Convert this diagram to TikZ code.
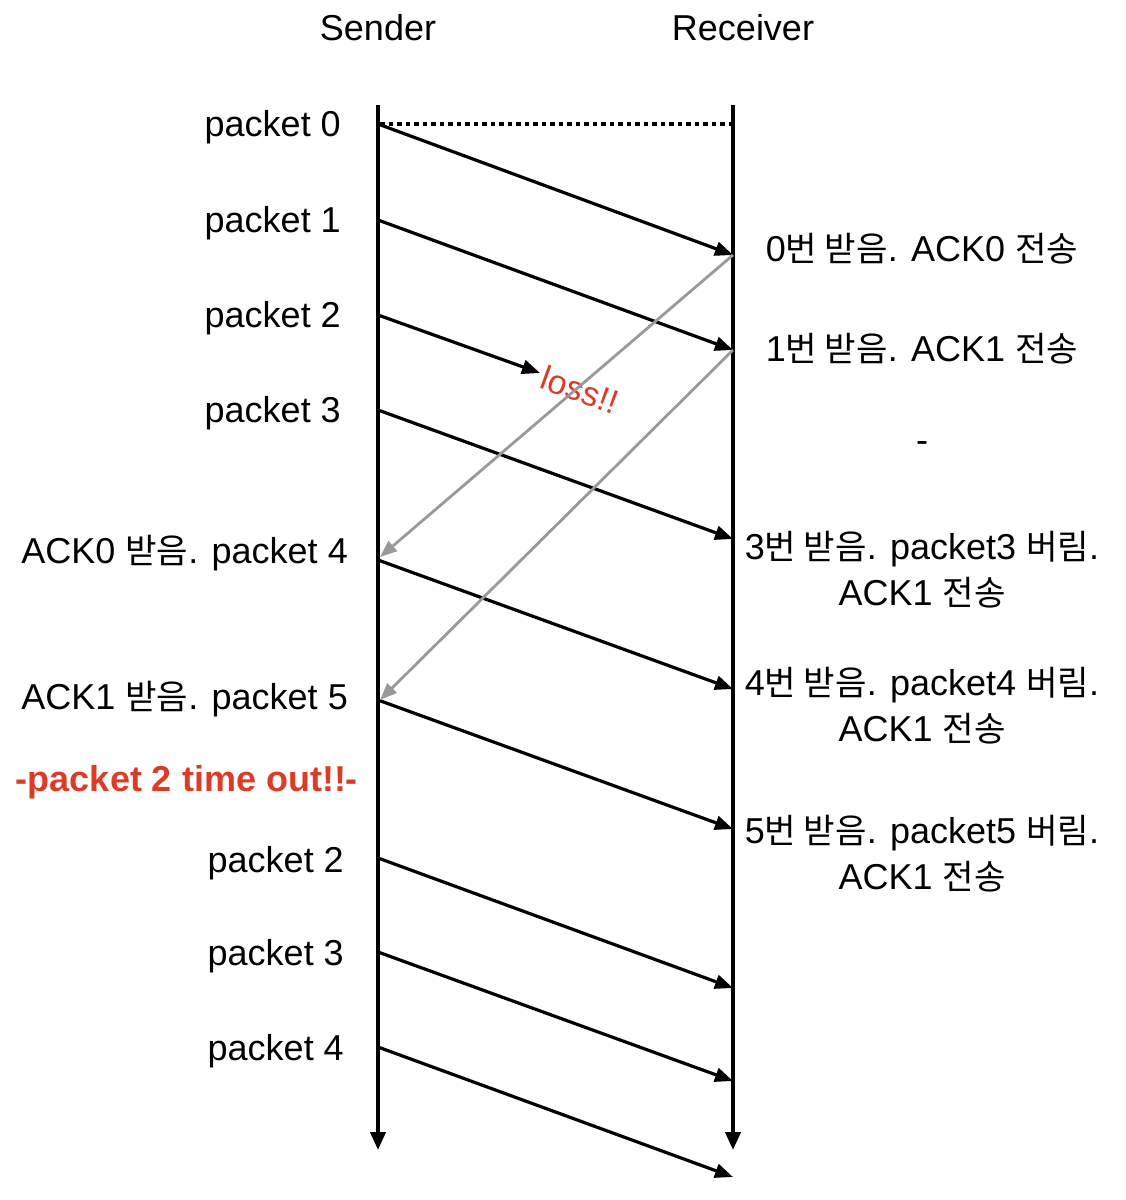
\documentclass[tikz,border=0pt]{standalone}
\usepackage{fontspec}
\setmainfont{Liberation Sans}
\newfontfamily\kr[Scale=0.95]{Noto Sans CJK KR}
\usetikzlibrary{arrows.meta}
\definecolor{lossred}{HTML}{DC3B26}
\definecolor{ackgray}{HTML}{999999}
\begin{document}
\begin{tikzpicture}[x=1pt,y=-1pt,
  lbl/.style={font=\fontsize{36}{46}\selectfont, inner sep=0pt},
  axis/.style={line width=4pt, -{Triangle[length=18pt,width=15pt]}},
  msg/.style={line width=3.2pt, -{Triangle[length=18pt,width=14pt]}},
  ack/.style={line width=2.8pt, draw=ackgray, -{Triangle[length=17pt,width=13pt]}, color=ackgray},
  rlbl/.style={lbl, align=center}]
\useasboundingbox (0,0) rectangle (1126,1200);
% axes
\coordinate (sTop) at (378,105);
\coordinate (sBot) at (378,1150);
\coordinate (rTop) at (733,105);
\coordinate (rBot) at (733,1150);
\draw[axis] (sTop) -- (sBot);
\draw[axis] (rTop) -- (rBot);
\node[lbl] (sender) at (378,28) {Sender};
\node[lbl] (receiver) at (743,28) {Receiver};
% dotted
\coordinate (d0) at (380,124);
\coordinate (d1) at (731,124);
\draw[line width=3.5pt, dash pattern=on 4.5pt off 4pt] (d0) -- (d1);
% send points
\coordinate (s0) at (378,124);
\coordinate (s1) at (378,220);
\coordinate (s2) at (378,315);
\coordinate (s3) at (378,410);
\coordinate (s4) at (378,560);
\coordinate (s5) at (378,700);
\coordinate (s6) at (378,858);
\coordinate (s7) at (378,952);
\coordinate (s8) at (378,1047);
\coordinate (r0) at (733,255);
\coordinate (r1) at (733,350);
\coordinate (lossEnd) at (540,373);
\coordinate (r3) at (733,539);
\coordinate (r4) at (733,689);
\coordinate (r5) at (733,829);
\coordinate (r6) at (733,988);
\coordinate (r7) at (733,1081);
\coordinate (r8) at (733,1177);
\coordinate (a0) at (380,557);
\coordinate (a1) at (380,700);
% left labels
\node[lbl, anchor=east] (p0) at (341,127) {packet 0};
\node[lbl, anchor=east] (p1) at (341,223) {packet 1};
\node[lbl, anchor=east] (p2) at (341,318) {packet 2};
\node[lbl, anchor=east] (p3) at (341,413) {packet 3};
\node[lbl, anchor=east] (p4) at (348,553) {ACK0 {\kr 받음}. packet 4};
\node[lbl, anchor=east] (p5) at (348,699) {ACK1 {\kr 받음}. packet 5};
\node[lbl, anchor=center, text=lossred, font=\fontsize{36}{40}\selectfont\bfseries] (timeout) at (187,782) {-packet 2 time out!!-};
\node[lbl, anchor=east] (p6) at (344,863) {packet 2};
\node[lbl, anchor=east] (p7) at (344,956) {packet 3};
\node[lbl, anchor=east] (p8) at (344,1051) {packet 4};
% right labels
\node[rlbl] (q0) at (922,249) {0{\kr 번 받음}. ACK0 {\kr 전송}};
\node[rlbl] (q1) at (922,349) {1{\kr 번 받음}. ACK1 {\kr 전송}};
\node[rlbl] (q2) at (922,447) {-};
\node[rlbl] (q3) at (922,570) {3{\kr 번 받음}. packet3 {\kr 버림}.\\ACK1 {\kr 전송}};
\node[rlbl] (q4) at (922,706) {4{\kr 번 받음}. packet4 {\kr 버림}.\\ACK1 {\kr 전송}};
\node[rlbl] (q5) at (922,854) {5{\kr 번 받음}. packet5 {\kr 버림}.\\ACK1 {\kr 전송}};
% loss label
\node[lbl, text=lossred, rotate=-20, font=\fontsize{34}{38}\selectfont] (loss) at (580,390) {loss!!};
% messages
\draw[msg] (s0) -- (r0);
\draw[msg] (s1) -- (r1);
\draw[msg] (s2) -- (lossEnd);
\draw[msg] (s3) -- (r3);
\draw[msg] (s4) -- (r4);
\draw[msg] (s5) -- (r5);
\draw[msg] (s6) -- (r6);
\draw[msg] (s7) -- (r7);
\draw[msg] (s8) -- (r8);
% acks
\draw[ack] (r0) -- (a0);
\draw[ack] (r1) -- (a1);
\end{tikzpicture}
\end{document}
